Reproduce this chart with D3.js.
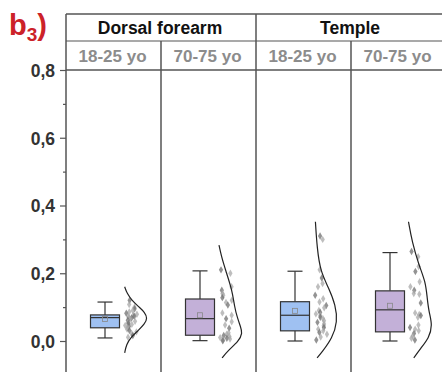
<!DOCTYPE html>
<html>
<head>
<meta charset="utf-8">
<script src="https://cdn.jsdelivr.net/npm/d3@7"></script>
<style>
  body { margin: 0; background: #fff; }
  svg { display: block; font-family: Arial, "Liberation Sans", sans-serif; }
</style>
</head>
<body>
<svg></svg>
<script>
// ---- data ----
const sites = ["Dorsal forearm", "Temple"];
const ages = ["18-25 yo", "70-75 yo"];
const yTicks = [0, 0.2, 0.4, 0.6, 0.8];
const yMinor = [0.1, 0.3, 0.5, 0.7];

// box stats per group: [min, q1, median, q3, max], mean
const boxStats = [
  [0.009, 0.039, 0.069, 0.077, 0.115],
  [0.001, 0.017, 0.066, 0.124, 0.207],
  [0.000, 0.030, 0.076, 0.116, 0.206],
  [0.000, 0.027, 0.092, 0.148, 0.261]
];
const means = [0.065, 0.076, 0.089, 0.104];

// raw points
const points1 = [0.12, 0.108, 0.1, 0.095, 0.09, 0.086, 0.082, 0.079, 0.076, 0.073, 0.071, 0.07, 0.068, 0.066,
  0.064, 0.061, 0.058, 0.055, 0.052, 0.049, 0.046, 0.043, 0.039, 0.035, 0.031, 0.027, 0.022, 0.016, 0.011];
const points2 = [0.21, 0.2, 0.16, 0.15, 0.14, 0.135, 0.128, 0.12, 0.114, 0.106, 0.083, 0.076, 0.066, 0.057,
  0.047, 0.038, 0.024, 0.02, 0.016, 0.013, 0.01, 0.008, 0.006, 0.003, 0.001];
const points3 = [0.31, 0.3, 0.21, 0.186, 0.17, 0.16, 0.135, 0.125, 0.115, 0.105, 0.098, 0.09, 0.085, 0.08,
  0.075, 0.07, 0.066, 0.06, 0.055, 0.05, 0.045, 0.04, 0.035, 0.03, 0.025, 0.02, 0.012, 0.003];
const points4 = [0.264, 0.249, 0.22, 0.205, 0.175, 0.16, 0.15, 0.14, 0.138, 0.112, 0.083, 0.078, 0.075, 0.07,
  0.047, 0.04, 0.035, 0.03, 0.022, 0.015, 0.008, 0.003];
const allPoints = [points1, points2, points3, points4];

// half-violin density curves: [value, relative density]
const dens1 = [[0.16, 0.05], [0.14, 0.15], [0.12, 0.35], [0.10, 0.65], [0.085, 0.88], [0.067, 1.0],
  [0.05, 0.88], [0.03, 0.6], [0.01, 0.3], [-0.01, 0.12], [-0.035, 0.05]];
const dens2 = [[0.283, 0.02], [0.25, 0.12], [0.21, 0.29], [0.15, 0.57], [0.10, 0.67], [0.07, 0.78],
  [0.042, 0.92], [0.023, 1.0], [0.0, 0.85], [-0.03, 0.37], [-0.05, 0.15]];
const dens3 = [[0.352, 0.08], [0.274, 0.15], [0.205, 0.29], [0.156, 0.64], [0.106, 0.92], [0.057, 1.0],
  [0.008, 0.78], [-0.032, 0.36], [-0.05, 0.15]];
const dens4 = [[0.352, 0.0], [0.293, 0.15], [0.224, 0.43], [0.175, 0.71], [0.126, 0.78], [0.086, 0.85],
  [0.047, 1.0], [0.008, 0.85], [-0.022, 0.5], [-0.05, 0.22]];
const allDens = [dens1, dens2, dens3, dens4];

const fills = ["#9fc1f2", "#c3b0d8", "#9fc1f2", "#c3b0d8"];

// ---- layout ----
const W = 442, H = 372;
const left = 66, right = 446;
const headTop = 14, headMid = 41, plotTop = 70;

const svg = d3.select("svg").attr("width", W).attr("height", H);

const y = d3.scaleLinear().domain([0, 0.8]).range([341, plotTop]);
const groups = d3.range(4);
const x = d3.scaleBand().domain(groups).range([left, right]);
const siteX = d3.scaleBand().domain(sites).range([left, right]);
const dw = d3.scaleLinear().domain([0, 1]).range([0, 24]);

const lineCol = "#555";

// stable jitter for the raw points
const jit = j => { const v = Math.sin(j * 12.9898 + 4.1) * 43758.5453; return v - Math.floor(v); };

// label b3)
const lab = svg.append("text").attr("x", 9).attr("y", 35)
  .attr("fill", "#cc2229").style("font-weight", "bold").style("font-size", "29px");
lab.append("tspan").text("b");
lab.append("tspan").attr("dy", 6).style("font-size", "19px").text("3");
lab.append("tspan").attr("dy", -6).text(")");

// header frame
svg.append("line").attr("x1", left).attr("x2", W).attr("y1", headTop).attr("y2", headTop)
  .attr("stroke", lineCol).attr("stroke-width", 1.5);
svg.append("line").attr("x1", left).attr("x2", W).attr("y1", headMid).attr("y2", headMid)
  .attr("stroke", lineCol).attr("stroke-width", 1.2);
svg.append("line").attr("x1", left).attr("x2", W).attr("y1", plotTop).attr("y2", plotTop)
  .attr("stroke", lineCol).attr("stroke-width", 1.5);

// site headers
svg.selectAll(".site").data(sites).enter().append("text")
  .attr("x", d => siteX(d) + siteX.bandwidth() / 2 - 1)
  .attr("y", 34)
  .attr("text-anchor", "middle")
  .attr("fill", "#111")
  .style("font-weight", "bold").style("font-size", "17.5px")
  .text(d => d);

// age headers
svg.selectAll(".age").data(groups).enter().append("text")
  .attr("x", d => x(d) + x.bandwidth() / 2 - 1)
  .attr("y", 62)
  .attr("text-anchor", "middle")
  .attr("fill", "#8c8c8c")
  .style("font-weight", "bold").style("font-size", "17px")
  .text(d => ages[d % 2]);

// panel separators
svg.selectAll(".sep").data([1, 2, 3]).enter().append("line")
  .attr("x1", d => x(d)).attr("x2", d => x(d))
  .attr("y1", d => d === 2 ? headTop : headMid).attr("y2", H)
  .attr("stroke", lineCol).attr("stroke-width", 1.5);

// y axis
const yAxis = svg.append("g").attr("transform", `translate(${left},0)`)
  .call(d3.axisLeft(y).tickValues(yTicks).tickSize(6).tickPadding(5)
    .tickFormat(d => d3.format(".1f")(d).replace(".", ",")));
yAxis.select(".domain").remove();
yAxis.selectAll(".tick line").attr("stroke", lineCol).attr("stroke-width", 1.2);
yAxis.selectAll(".tick text").attr("fill", "#333").attr("dy", "0.36em")
  .style("font-weight", "bold").style("font-size", "17.5px").style("font-family", "Arial, 'Liberation Sans', sans-serif");
svg.append("g").attr("transform", `translate(${left},0)`)
  .call(d3.axisLeft(y).tickValues(yMinor).tickSize(3).tickFormat(""))
  .call(g => g.select(".domain").remove())
  .selectAll(".tick line").attr("stroke", lineCol).attr("stroke-width", 1.2);
svg.append("line").attr("x1", left).attr("x2", left).attr("y1", headTop).attr("y2", H)
  .attr("stroke", lineCol).attr("stroke-width", 1.5);

// groups
const boxW = 29, capW = 15;
groups.forEach(i => {
  const cx = x(i) + x.bandwidth() / 2 - 8.5;
  const base = cx + 18.5;
  const s = boxStats[i];
  const g = svg.append("g");

  // whiskers
  g.append("line").attr("x1", cx).attr("x2", cx).attr("y1", y(s[0])).attr("y2", y(s[1]))
    .attr("stroke", "#333").attr("stroke-width", 1.2);
  g.append("line").attr("x1", cx).attr("x2", cx).attr("y1", y(s[3])).attr("y2", y(s[4]))
    .attr("stroke", "#333").attr("stroke-width", 1.2);
  [s[0], s[4]].forEach(v => {
    g.append("line").attr("x1", cx - capW / 2).attr("x2", cx + capW / 2).attr("y1", y(v)).attr("y2", y(v))
      .attr("stroke", "#333").attr("stroke-width", 1.2);
  });
  // box
  g.append("rect").attr("x", cx - boxW / 2).attr("width", boxW)
    .attr("y", y(s[3])).attr("height", y(s[1]) - y(s[3]))
    .attr("fill", fills[i]).attr("stroke", "#333").attr("stroke-width", 1.2);
  g.append("line").attr("x1", cx - boxW / 2).attr("x2", cx + boxW / 2).attr("y1", y(s[2])).attr("y2", y(s[2]))
    .attr("stroke", "#333").attr("stroke-width", 1.2);
  // mean
  g.append("rect").attr("x", cx - 2.5).attr("y", y(means[i]) - 2.5).attr("width", 5).attr("height", 5)
    .attr("fill", "none").attr("stroke", "#888").attr("stroke-width", 0.8);

  // points
  const pts = allPoints[i];
  g.selectAll(".pt").data(pts).enter().append("path")
    .attr("d", d3.symbol(d3.symbolDiamond, 16))
    .attr("transform", (d, j) => `translate(${base + 1.5 + jit(j + i * 50) * 12},${y(d)})`)
    .attr("fill", (d, j) => j % 3 === 0 ? "#6f6f6f" : "#a8a8a8")
    .attr("opacity", 0.75);

  // density curve
  const line = d3.line().curve(d3.curveBasis)
    .x(d => base + dw(d[1])).y(d => y(d[0]));
  g.append("path").attr("d", line(allDens[i]))
    .attr("fill", "none").attr("stroke", "#222").attr("stroke-width", 1.2);
});
</script>
</body>
</html>
